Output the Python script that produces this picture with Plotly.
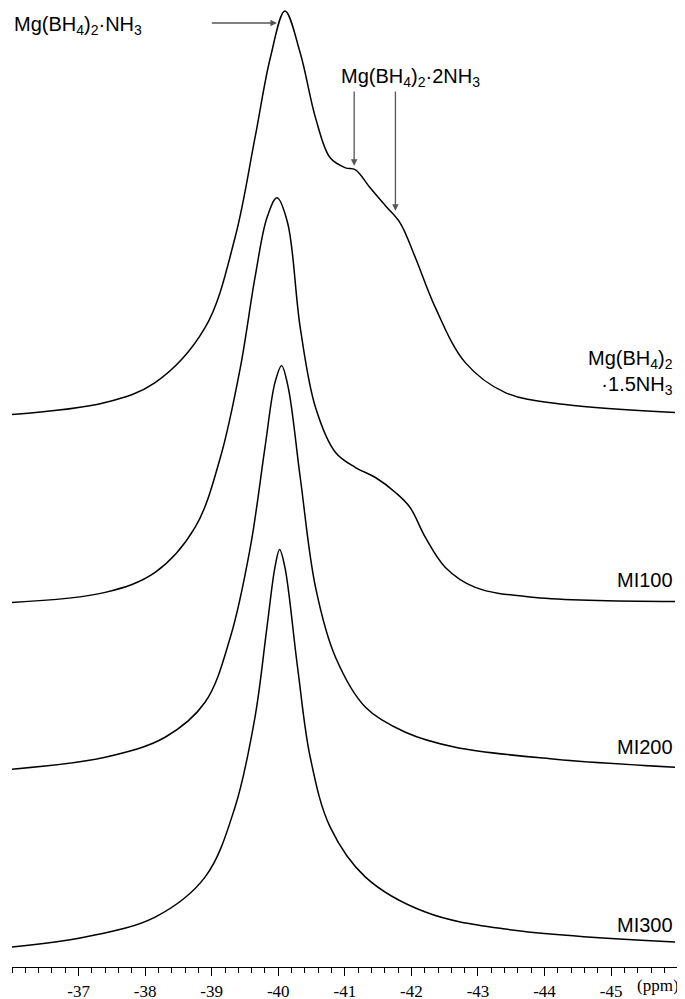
import plotly.graph_objects as go

# spectra: ppm positions and intensities (relative to each baseline)
ppm_a = [-36.0, -37.4, -38.15, -38.9, -39.35, -39.65, -39.88, -40.1, -40.33, -40.56, -40.78, -41.01, -41.16, -41.38, -41.61, -41.83, -42.06, -42.36, -42.81, -43.41, -44.31, -45.96]
int_a = [0, 12, 32, 87, 177, 277, 357, 404, 362, 297, 257, 247, 245, 227, 209, 192, 157, 107, 52, 22, 10, 2]
ppm_b = [-36.0, -37.4, -38.15, -38.75, -39.13, -39.43, -39.65, -39.83, -39.98, -40.14, -40.33, -40.56, -40.86, -41.16, -41.46, -41.76, -41.98, -42.21, -42.51, -42.96, -43.86, -45.96]
int_b = [0, 10, 30, 75, 145, 235, 325, 385, 405, 380, 275, 195, 150, 135, 125, 110, 95, 65, 35, 15, 5, 1]
ppm_c = [-36.0, -37.4, -38.3, -38.9, -39.28, -39.58, -39.8, -39.95, -40.05, -40.15, -40.33, -40.56, -40.86, -41.31, -41.91, -42.66, -44.16, -45.96]
int_c = [0, 12, 32, 67, 132, 222, 322, 387, 404, 382, 292, 182, 112, 62, 37, 22, 10, 2]
ppm_d = [-36.0, -37.1, -38.15, -38.9, -39.35, -39.65, -39.83, -39.95, -40.02, -40.1, -40.29, -40.48, -40.78, -41.31, -42.21, -43.41, -45.96]
int_d = [0, 10, 30, 70, 140, 230, 320, 380, 398, 380, 280, 190, 120, 70, 35, 18, 5]
offsets = [533, 345, 178, 0]
labels = ["Mg(BH<sub>4</sub>)<sub>2</sub><br>·1.5NH<sub>3</sub>", "MI100", "MI200", "MI300"]
tick_vals = [-37, -38, -39, -40, -41, -42, -43, -44, -45]

fig = go.Figure()
for xs, ys, off in zip([ppm_a, ppm_b, ppm_c, ppm_d], [int_a, int_b, int_c, int_d], offsets):
    fig.add_trace(go.Scatter(x=xs, y=[v + off for v in ys], mode="lines",
                             line=dict(color="black", width=1.5, shape="spline", smoothing=1.0),
                             showlegend=False, hoverinfo="skip"))

fnt = dict(family="Liberation Sans, Arial", size=20, color="black")
ann = []
ann.append(dict(x=-45.96, y=575, xanchor="right", yanchor="middle", text=labels[0], showarrow=False, font=fnt, align="right"))
for lab, yv in zip(labels[1:], [367, 200, 22]):
    ann.append(dict(x=-45.96, y=yv, xanchor="right", yanchor="middle", text=lab, showarrow=False, font=fnt))
ann.append(dict(x=-36.0, y=922, xanchor="left", yanchor="middle", text="Mg(BH<sub>4</sub>)<sub>2</sub>·NH<sub>3</sub>", showarrow=False, font=fnt))
ann.append(dict(x=-41.98, y=870, xanchor="center", yanchor="middle", text="Mg(BH<sub>4</sub>)<sub>2</sub>·2NH<sub>3</sub>", showarrow=False, font=fnt))
arrow = dict(showarrow=True, arrowhead=2, arrowsize=1, arrowwidth=1.3, arrowcolor="#555", text="", axref="x", ayref="y")
ann.append(dict(arrow, x=-39.98, y=925, ax=-38.98, ay=925))
ann.append(dict(arrow, x=-41.14, y=782, ax=-41.14, ay=858))
ann.append(dict(arrow, x=-41.76, y=737, ax=-41.76, ay=858))
ann.append(dict(x=-46.05, y=0, xref="x", yref="paper", yshift=-18, xanchor="right", yanchor="middle", text="(ppm)", showarrow=False,
                font=dict(family="Liberation Serif, Times New Roman", size=17, color="black")))

fig.update_layout(width=685, height=999, margin=dict(l=4, r=12, t=0, b=40, autoexpand=False),
                  plot_bgcolor="white", paper_bgcolor="white", annotations=ann,
                  xaxis=dict(range=[-36.0, -46.05], showgrid=False, zeroline=False, showline=True, linecolor="black", linewidth=1.2,
                             ticks="outside", ticklen=8, tickcolor="black", tickvals=tick_vals, ticktext=[str(t) for t in tick_vals],
                             tickfont=dict(family="Liberation Serif, Times New Roman", size=17, color="black"),
                             minor=dict(dtick=0.2, ticks="outside", ticklen=5, tickcolor="black")),
                  yaxis=dict(range=[-20, 940], visible=False))
fig.write_html("out.html")
